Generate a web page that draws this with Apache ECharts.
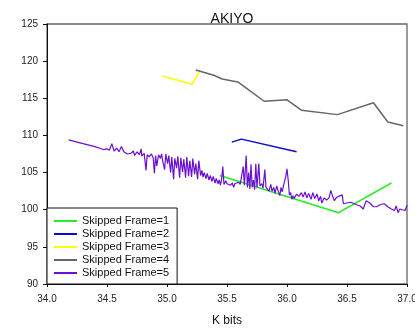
<!DOCTYPE html>
<html>
<head>
<meta charset="utf-8">
<script src="https://cdn.jsdelivr.net/npm/echarts@6/dist/echarts.min.js"></script>
<style>
html,body{margin:0;padding:0;background:#fff;}
#c{width:415px;height:329px;}
</style>
</head>
<body>
<div id="c"></div>
<script>
var seriesNames = ['Skipped Frame=1','Skipped Frame=2','Skipped Frame=3','Skipped Frame=4','Skipped Frame=5'];
var xTickMin = 34.0, xTickMax = 37.0, xTickStep = 0.5;
var yTickMin = 90, yTickMax = 125, yTickStep = 5;

var f1x = [35.44, 36.43, 36.87];
var f1y = [104.6, 99.6, 103.6];

var f2x = [35.54, 35.62, 36.08];
var f2y = [109.1, 109.5, 107.8];

var f3x = [34.96, 35.21, 35.27];
var f3y = [118.0, 116.9, 118.6];

var f4x = [35.24, 35.39, 35.46, 35.59, 35.81, 36.00, 36.12, 36.42, 36.72, 36.84, 36.97];
var f4y = [118.8, 118.1, 117.6, 117.2, 114.6, 114.8, 113.4, 112.8, 114.4, 111.8, 111.3];

var f5x = [34.18,34.30,34.40,34.47,34.50,34.52,34.54,34.56,34.58,34.60,34.62,34.64,34.67,34.70,34.72,34.73,34.75,34.77,34.785,34.79,
34.81,34.825,34.835,34.85,34.87,34.885,34.895,34.905,34.915,34.93,34.945,34.955,34.965,34.98,34.99,35.005,35.015,35.03,35.04,35.055,
35.065,35.08,35.09,35.105,35.115,35.13,35.14,35.155,35.165,35.18,35.19,35.205,35.215,35.23,35.24,35.255,35.265,35.28,35.29,35.30,
35.31,35.325,35.335,35.35,35.36,35.375,35.385,35.40,35.41,35.425,35.435,35.445,35.455,35.465,35.475,35.49,35.50,35.515,35.53,35.545,
35.555,35.565,35.58,35.595,35.61,35.62,35.635,35.645,35.66,35.67,35.68,35.69,35.70,35.71,35.72,35.73,35.74,35.75,35.765,35.775,
35.79,35.80,35.815,35.825,35.84,35.85,35.865,35.875,35.89,35.90,35.915,35.925,35.94,35.95,35.96,35.975,35.99,36.00,36.01,36.02,
36.03,36.04,36.05,36.06,36.08,36.10,36.12,36.135,36.15,36.165,36.18,36.20,36.215,36.23,36.25,36.265,36.28,36.29,36.31,36.33,
36.35,36.365,36.38,36.395,36.41,36.43,36.46,36.47,36.50,36.53,36.56,36.59,36.61,36.635,36.66,36.69,36.72,36.745,36.78,36.81,
36.84,36.87,36.895,36.91,36.925,36.94,36.96,36.985,37.00];
var f5y = [109.4,108.9,108.5,108.1,108.2,108.0,108.9,107.9,108.3,107.8,108.5,107.8,107.5,107.6,107.9,107.3,107.8,107.4,108.2,107.2,
107.6,105.3,107.4,107.1,107.5,107.0,104.9,107.3,105.9,107.4,106.9,107.5,106.5,105.4,107.5,106.2,107.3,105.0,107.1,104.1,
106.9,105.6,107.2,104.3,107.0,105.1,106.8,104.3,107.1,104.5,106.6,104.4,106.9,104.8,106.2,104.1,106.6,104.6,105.3,104.4,
105.0,104.2,104.9,104.0,104.6,103.8,104.5,103.6,104.2,103.5,104.0,103.3,104.1,105.8,103.4,103.9,103.5,103.7,103.3,103.6,
103.0,103.5,103.4,103.7,103.4,103.6,105.8,103.3,107.3,103.0,105.0,102.8,106.1,103.0,104.0,102.7,106.2,103.0,106.2,103.2,
103.5,102.9,105.4,103.0,103.2,102.5,103.4,102.5,103.0,102.2,103.2,102.6,101.9,103.0,102.4,103.5,104.5,105.5,104.0,102.0,
102.3,101.4,101.9,101.5,102.1,101.8,102.3,101.7,102.4,101.6,102.2,101.4,102.3,101.5,102.1,101.2,101.8,100.9,101.6,101.3,
101.6,102.6,101.8,101.2,101.6,101.8,102.0,100.8,100.9,101.0,100.8,100.6,100.5,100.1,101.2,100.9,100.4,100.4,100.7,100.8,
100.4,100.1,99.9,100.5,99.6,100.1,100.0,99.9,100.6];

var colors = ['#22ee22', '#0a0ad0', '#ffff00', '#666666', '#6a10d0'];

function pairs(xs, ys) { return xs.map(function (x, i) { return [x, ys[i]]; }); }
var allX = [f1x, f2x, f3x, f4x, f5x];
var allY = [f1y, f2y, f3y, f4y, f5y];

var series = seriesNames.map(function (n, i) {
  return {
    name: n, type: 'line', data: pairs(allX[i], allY[i]),
    symbol: 'none', showSymbol: false,
    lineStyle: { color: colors[i], width: i === 4 ? 1.2 : 1.5 },
    itemStyle: { color: colors[i] },
    clip: true, animation: false, z: i === 4 ? 3 : 2
  };
});

var font = 'Liberation Sans, Arial, sans-serif';
var chart = echarts.init(document.getElementById('c'), null, { renderer: 'canvas' });
chart.setOption({
  animation: false,
  backgroundColor: '#fff',
  color: colors,
  title: {
    text: 'AKIYO', left: 227, top: 7, textAlign: 'center',
    textStyle: { fontFamily: font, fontSize: 14, fontWeight: 'normal', color: '#111' }
  },
  grid: {
    left: 47, right: 8, top: 24, bottom: 45,
    containLabel: false, outerBoundsMode: 'none',
    show: true, borderColor: '#666', borderWidth: 1.3, backgroundColor: 'transparent'
  },
  legend: {
    orient: 'vertical', left: 47, top: 208,
    backgroundColor: '#fff', borderColor: '#111', borderWidth: 1,
    padding: [7, 8, 5, 7], itemGap: 1,
    itemWidth: 23, itemHeight: 2, icon: 'rect',
    textStyle: { fontFamily: font, fontSize: 11, color: '#111', lineHeight: 12 },
    data: seriesNames
  },
  xAxis: {
    type: 'value', min: xTickMin, max: xTickMax, interval: xTickStep,
    name: 'K bits', nameLocation: 'middle', nameGap: 31,
    nameTextStyle: { fontFamily: font, fontSize: 12, color: '#111' },
    axisLine: { onZero: false, lineStyle: { color: '#111', width: 1 } },
    axisTick: { show: true, length: 3, lineStyle: { color: '#111' } },
    axisLabel: { fontFamily: font, fontSize: 10, color: '#222', margin: 10,
      formatter: function (v) { return v.toFixed(1); } },
    splitLine: { show: false }
  },
  yAxis: {
    type: 'value', min: yTickMin, max: yTickMax, interval: yTickStep,
    axisLine: { show: true, onZero: false, lineStyle: { color: '#111', width: 1 } },
    axisTick: { show: true, length: 4, lineStyle: { color: '#111' } },
    axisLabel: { fontFamily: font, fontSize: 10, color: '#222', margin: 9 },
    splitLine: { show: false }
  },
  series: series
});
</script>
</body>
</html>
